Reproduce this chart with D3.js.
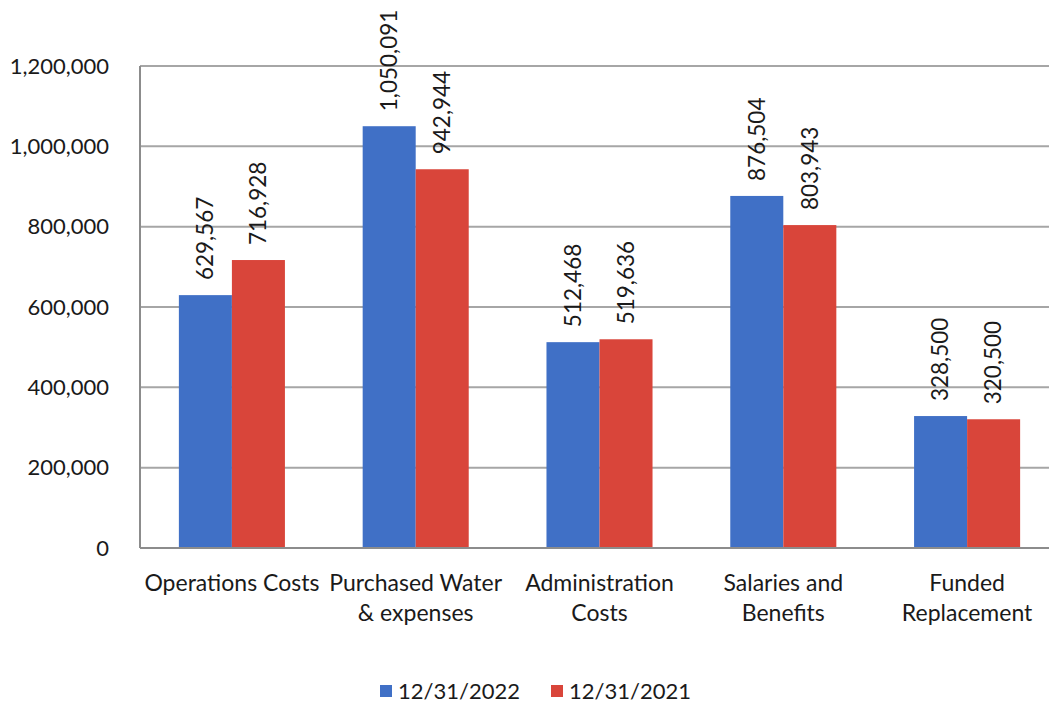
<!DOCTYPE html>
<html>
<head>
<meta charset="utf-8">
<script src="https://cdn.jsdelivr.net/npm/d3@7"></script>
<style>
  html, body { margin: 0; padding: 0; background: #fff; }
  svg { display: block; font-family: Lato, "Open Sans", sans-serif; }
</style>
</head>
<body>
<svg id="chart" width="1049" height="709"></svg>
<script>
// Expense categories (two-line labels) and the two year-end series
const categories = [
  ["Operations Costs"],
  ["Purchased Water", "& expenses"],
  ["Administration", "Costs"],
  ["Salaries and", "Benefits"],
  ["Funded", "Replacement"]
];
const seriesNames = ["12/31/2022", "12/31/2021"];
const values2022 = [629567, 1050091, 512468, 876504, 328500];
const values2021 = [716928, 942944, 519636, 803943, 320500];
const yTicks = [0, 200000, 400000, 600000, 800000, 1000000, 1200000];
const colors = ["#4070c6", "#d9453a"];

const svg = d3.select("#chart");
const margin = { left: 140, top: 66, bottom: 548, right: 1059 };

const x0 = d3.scaleBand()
  .domain(d3.range(categories.length))
  .range([margin.left, margin.right])
  .paddingInner(0.423)
  .paddingOuter(0.2115);
const x1 = d3.scaleBand()
  .domain([0, 1])
  .range([0, x0.bandwidth()]);
const y = d3.scaleLinear()
  .domain([0, 1200000])
  .range([margin.bottom, margin.top]);

const fmt = d3.format(",");

// Horizontal gridlines
svg.append("g")
  .selectAll("line")
  .data(yTicks.slice(1))
  .join("line")
  .attr("x1", margin.left)
  .attr("x2", margin.right)
  .attr("y1", d => y(d))
  .attr("y2", d => y(d))
  .attr("stroke", "#a6a6a6")
  .attr("stroke-width", 2);

// Y tick labels
svg.append("g")
  .selectAll("text")
  .data(yTicks)
  .join("text")
  .attr("x", 109)
  .attr("y", d => y(d))
  .attr("dy", "0.35em")
  .attr("text-anchor", "end")
  .attr("font-size", 22)
  .attr("fill", "#1a1a1a")
  .text(d => d === 0 ? "0" : fmt(d));

// Bars
const series = [values2022, values2021];
const groups = svg.append("g")
  .selectAll("g")
  .data(categories.map((c, i) => i))
  .join("g")
  .attr("transform", i => `translate(${x0(i)},0)`);

groups.selectAll("rect")
  .data(i => series.map((s, k) => ({ k, v: s[i] })))
  .join("rect")
  .attr("x", d => x1(d.k))
  .attr("width", x1.bandwidth())
  .attr("y", d => y(d.v))
  .attr("height", d => y(0) - y(d.v))
  .attr("fill", d => colors[d.k]);

// Rotated value labels above each bar
groups.selectAll("text.val")
  .data(i => series.map((s, k) => ({ k, v: s[i] })))
  .join("text")
  .attr("class", "val")
  .attr("transform", d => `translate(${x1(d.k) + x1.bandwidth() / 2},${y(d.v) - 15}) rotate(-90)`)
  .attr("dy", "0.35em")
  .attr("text-anchor", "start")
  .attr("font-size", 22.5)
  .attr("fill", "#1a1a1a")
  .text(d => fmt(d.v));

// Axis lines
svg.append("line")
  .attr("x1", margin.left).attr("x2", margin.left)
  .attr("y1", margin.top).attr("y2", margin.bottom)
  .attr("stroke", "#8c8c8c").attr("stroke-width", 2);
svg.append("line")
  .attr("x1", margin.left).attr("x2", margin.right)
  .attr("y1", margin.bottom).attr("y2", margin.bottom)
  .attr("stroke", "#8c8c8c").attr("stroke-width", 2);

// Category labels
svg.append("g")
  .selectAll("text")
  .data(categories.map((c, i) => ({ c, i })))
  .join("text")
  .attr("x", d => x0(d.i) + x0.bandwidth() / 2)
  .attr("y", 583)
  .attr("text-anchor", "middle")
  .attr("font-size", 23)
  .attr("fill", "#1a1a1a")
  .selectAll("tspan")
  .data(d => d.c.map((line, j) => ({ line, j, x: x0(d.i) + x0.bandwidth() / 2 })))
  .join("tspan")
  .attr("x", d => d.x)
  .attr("dy", d => d.j === 0 ? "0.35em" : 30)
  .text(d => d.line);

// Legend
const legendItems = [{ x: 380, k: 0 }, { x: 551, k: 1 }];
const legend = svg.append("g")
  .selectAll("g")
  .data(legendItems)
  .join("g")
  .attr("transform", d => `translate(${d.x},691)`);
legend.append("rect")
  .attr("x", 0).attr("y", -6)
  .attr("width", 12).attr("height", 12)
  .attr("fill", d => colors[d.k]);
legend.append("text")
  .attr("x", 18)
  .attr("dy", "0.35em")
  .attr("font-size", 22)
  .attr("fill", "#1a1a1a")
  .text(d => seriesNames[d.k]);
</script>
</body>
</html>
